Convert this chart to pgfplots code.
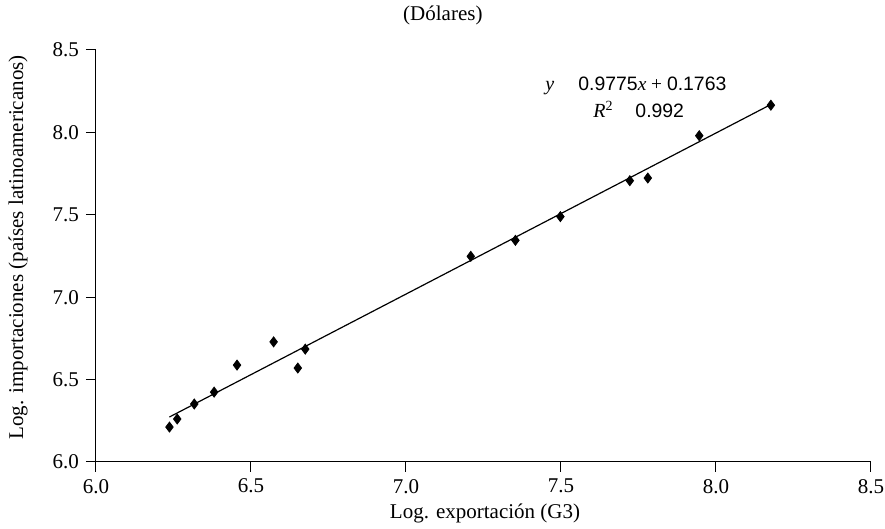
\documentclass[border=0pt]{standalone}
\usepackage{fontspec}
\setmainfont{Liberation Serif}
\newfontfamily\sansnum{Liberation Sans}
\usepackage{pgfplots}
\pgfplotsset{compat=1.18}

\begin{document}
\begin{tikzpicture}
% page = 885 x 529 px at 2 px per pt, axis box 96..871 x 50..462 px
\useasboundingbox (-48pt,-33.5pt) rectangle (394.5pt,231pt);
\begin{axis}[
    at={(0pt,0pt)}, anchor=south west,
    scale only axis,
    width=387.5pt,
    height=206pt,
    xmin=6, xmax=8.5,
    ymin=6, ymax=8.5,
    xtick={6,6.5,...,8.5},
    ytick={6,6.5,...,8.5},
    axis x line*=bottom,
    axis y line*=left,
    tick align=outside,
    major tick length=5pt,
    axis line style={line width=0.5pt},
    tick style={line width=0.5pt, black},
    /pgf/number format/.cd, fixed, fixed zerofill, precision=1, assume math mode=true,
    /pgfplots/.cd,
    ticklabel style={font=\fontsize{10.5}{12}\selectfont},
    xlabel={Log. exportación (G3)},
    ylabel={Log. importaciones (países latinoamericanos)},
    label style={font=\fontsize{10.5}{12}\selectfont},
    xlabel style={at={(axis description cs:0.502,-0.1238)}, anchor=center},
    ylabel style={at={(axis description cs:-0.1006,0.5206)}, anchor=center},
    clip=false,
]

% observaciones
\addplot[only marks, mark=diamond*, mark size=2.5pt, black] coordinates {
    (6.237, 6.212) (6.262, 6.261) (6.317, 6.352) (6.381, 6.424)
    (6.455, 6.588) (6.573, 6.729) (6.651, 6.570) (6.675, 6.685)
    (7.209, 7.248) (7.353, 7.345) (7.498, 7.489) (7.722, 7.707)
    (7.780, 7.723) (7.946, 7.980) (8.177, 8.165)
};

% recta de regresion
\addplot[black, line width=0.6pt] coordinates {(6.237, 6.2731) (8.177, 8.1693)};

\node[anchor=base west, inner sep=0pt, font=\fontsize{10}{12}\selectfont]
    at (axis cs:7.448,8.2545) {\textit{y}};
\node[anchor=base west, inner sep=0pt, font=\fontsize{9.7}{12}\selectfont]
    at (axis cs:7.555,8.2545) {{\sansnum 0.9775}\textit{x} + {\sansnum 0.1763}};
\node[anchor=base west, inner sep=0pt, font=\fontsize{10}{12}\selectfont]
    at (axis cs:7.603,8.091) {\textit{R}\textsuperscript{2}};
\node[anchor=base west, inner sep=0pt, font=\fontsize{9.7}{12}\selectfont]
    at (axis cs:7.739,8.091) {\sansnum 0.992};

\node[font=\fontsize{10.5}{12}\selectfont] at (axis cs:7.119,8.709) {(Dólares)};
\end{axis}
\end{tikzpicture}
\end{document}
